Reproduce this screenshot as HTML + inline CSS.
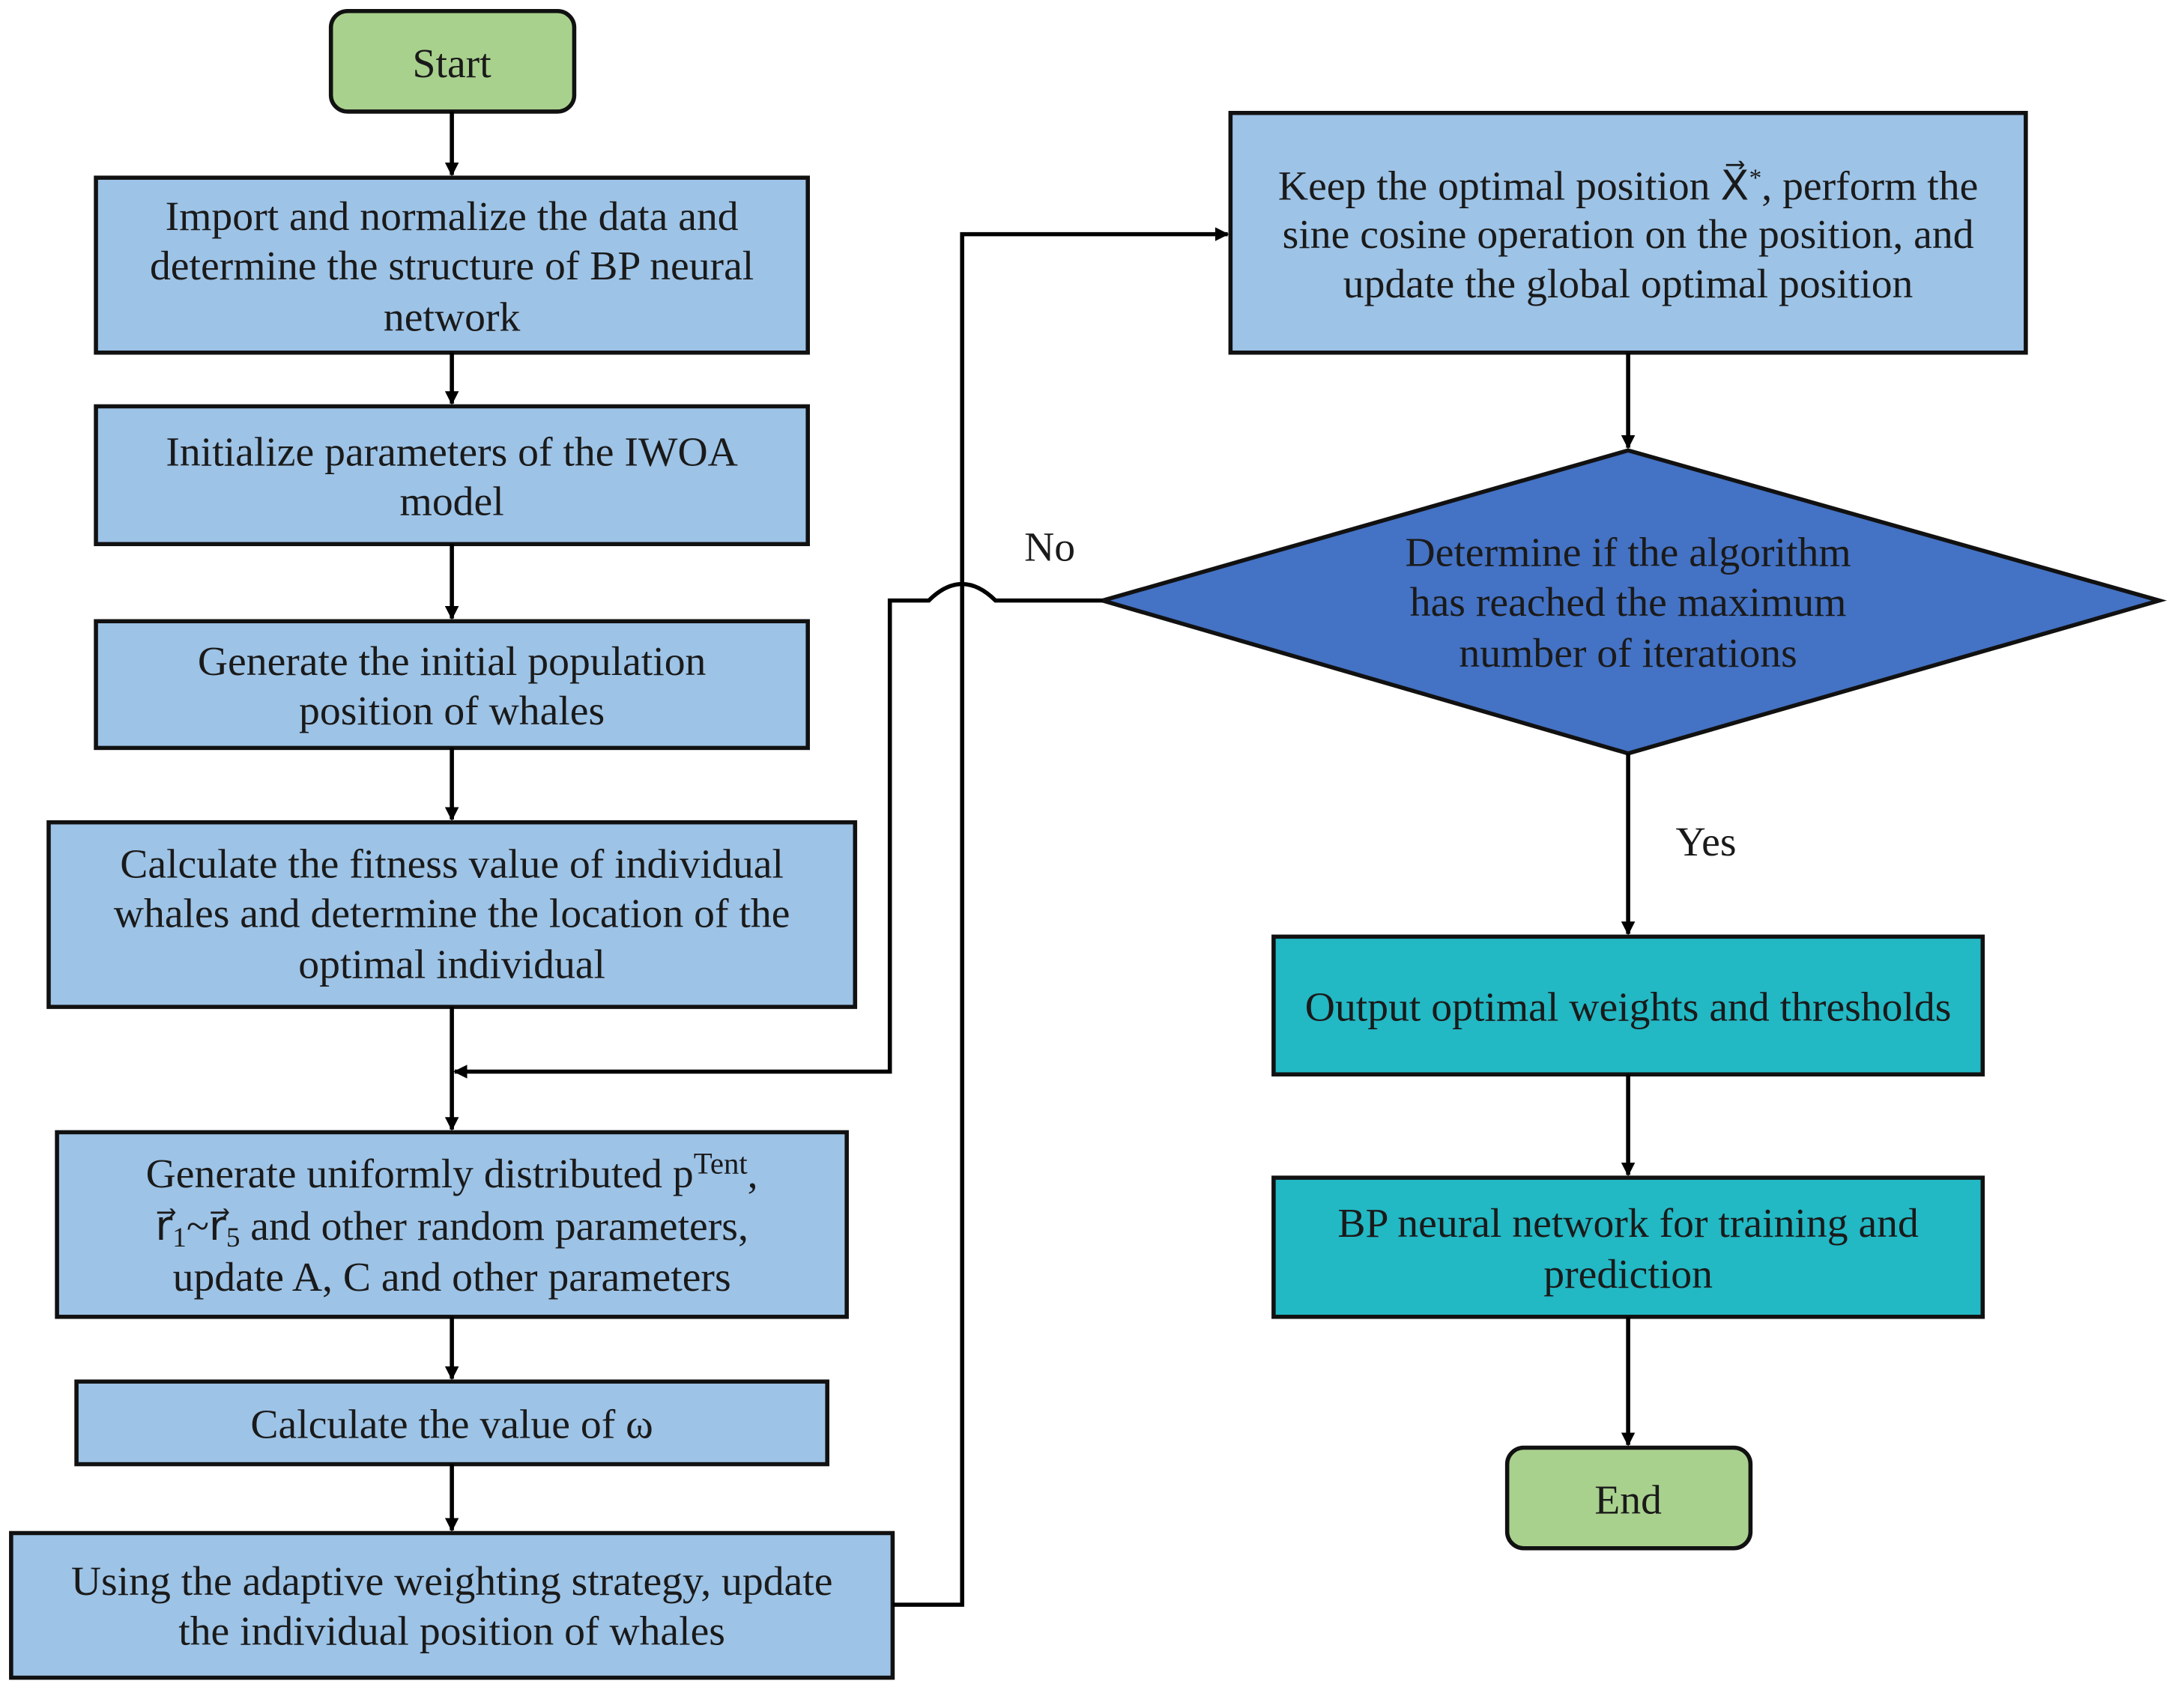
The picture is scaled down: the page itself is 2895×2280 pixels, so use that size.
<!DOCTYPE html>
<html><head><meta charset="utf-8"><style>html,body{margin:0;padding:0;background:#fff}svg{display:block}.t{font-family:"Liberation Serif","DejaVu Serif",serif}</style></head>
<body>
<svg width="2895" height="2280" viewBox="0 0 1560 1240" preserveAspectRatio="none" xmlns="http://www.w3.org/2000/svg">
<defs><marker id="a" markerWidth="10" markerHeight="10" refX="9" refY="5" orient="auto" markerUnits="userSpaceOnUse"><path d="M0,0 L10,5 L0,10 Z" fill="#000"/></marker></defs>
<g stroke="#111" stroke-width="3">
<rect x="238" y="8" width="175" height="73" rx="12" fill="#a9d18e"/>
<rect x="69" y="129" width="512" height="127" fill="#9dc3e6"/>
<rect x="69" y="295" width="512" height="100" fill="#9dc3e6"/>
<rect x="69" y="451" width="512" height="92" fill="#9dc3e6"/>
<rect x="35" y="597" width="580" height="134" fill="#9dc3e6"/>
<rect x="41" y="822" width="568" height="134" fill="#9dc3e6"/>
<rect x="55" y="1003" width="540" height="60" fill="#9dc3e6"/>
<rect x="8" y="1113" width="634" height="105" fill="#9dc3e6"/>
<rect x="885" y="82" width="572" height="174" fill="#9dc3e6"/>
<polygon points="793,436 1171,327 1553,436 1171,547" fill="#4472c4"/>
<rect x="916" y="680" width="510" height="100" fill="#22b8c4"/>
<rect x="916" y="855" width="510" height="101" fill="#22b8c4"/>
<rect x="1084" y="1051" width="175" height="73" rx="12" fill="#a9d18e"/>
</g>
<g stroke="#000" stroke-width="3" fill="none" marker-end="url(#a)">
<line x1="325" y1="81" x2="325" y2="127"/>
<line x1="325" y1="256" x2="325" y2="293"/>
<line x1="325" y1="395" x2="325" y2="449"/>
<line x1="325" y1="543" x2="325" y2="595"/>
<line x1="325" y1="731" x2="325" y2="820"/>
<line x1="325" y1="956" x2="325" y2="1001"/>
<line x1="325" y1="1063" x2="325" y2="1111"/>
<polyline points="642,1165 692,1165 692,170 883,170"/>
<path d="M793,436 L716,436 Q704,424 692,424 Q680,424 668,436 L640,436 L640,778 L327,778"/>
<line x1="1171" y1="256" x2="1171" y2="325"/>
<line x1="1171" y1="547" x2="1171" y2="678"/>
<line x1="1171" y1="780" x2="1171" y2="853"/>
<line x1="1171" y1="956" x2="1171" y2="1049"/>
</g>
<g class="t" font-size="30" fill="#1a1a1a" text-anchor="middle">
<text x="325" y="56">Start</text>
<text x="325" y="167">Import and normalize the data and</text>
<text x="325" y="203">determine the structure of BP neural</text>
<text x="325" y="240">network</text>
<text x="325" y="338">Initialize parameters of the IWOA</text>
<text x="325" y="374">model</text>
<text x="325" y="490">Generate the initial population</text>
<text x="325" y="526">position of whales</text>
<text x="325" y="637">Calculate the fitness value of individual</text>
<text x="325" y="673">whales and determine the location of the</text>
<text x="325" y="710">optimal individual</text>
<text x="325" y="862">Generate uniformly distributed p<tspan font-size="22" dy="-10">Tent</tspan><tspan dy="10">,</tspan></text>
<text x="325" y="900">r⃗<tspan font-size="20" dy="5">1</tspan><tspan dy="-5">~r⃗</tspan><tspan font-size="20" dy="5">5</tspan><tspan dy="-5"> and other random parameters,</tspan></text>
<text x="325" y="937">update A, C and other parameters</text>
<text x="325" y="1044">Calculate the value of ω</text>
<text x="325" y="1158">Using the adaptive weighting strategy, update</text>
<text x="325" y="1194">the individual position of whales</text>
<text x="1171" y="145">Keep the optimal position X⃗<tspan font-size="18" dy="-10">*</tspan><tspan dy="10">, perform the</tspan></text>
<text x="1171" y="180">sine cosine operation on the position, and</text>
<text x="1171" y="216">update the global optimal position</text>
<text x="1171" y="411">Determine if the algorithm</text>
<text x="1171" y="447">has reached the maximum</text>
<text x="1171" y="484">number of iterations</text>
<text x="1171" y="741">Output optimal weights and thresholds</text>
<text x="1171" y="898">BP neural network for training and</text>
<text x="1171" y="935">prediction</text>
<text x="1171" y="1099">End</text>
<text x="755" y="407">No</text>
<text x="1227" y="621">Yes</text>
</g>
</svg>
</body></html>
